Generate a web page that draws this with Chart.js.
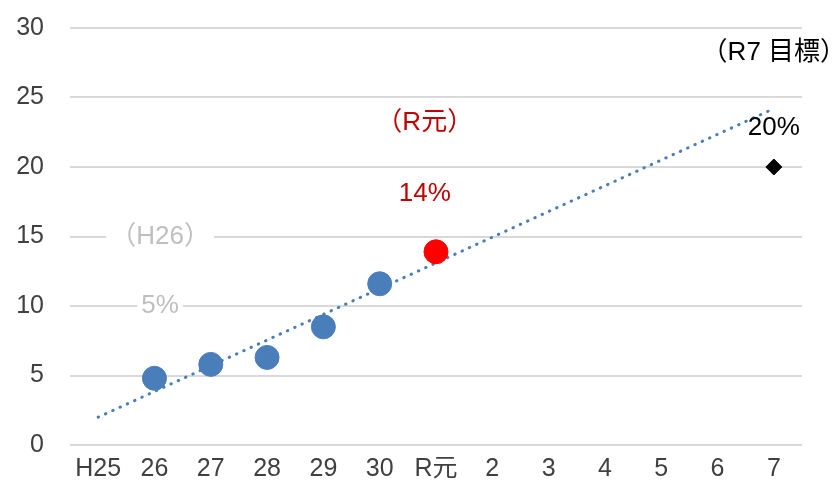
<!DOCTYPE html>
<html>
<head>
<meta charset="utf-8">
<script src="https://cdn.jsdelivr.net/npm/chart.js@4/dist/chart.umd.min.js"></script>
<style>
  html, body { margin: 0; padding: 0; background: #fff; }
  #wrap { width: 840px; height: 495px; }
</style>
</head>
<body>
<div id="wrap"><canvas id="graphique"></canvas></div>
<script>
// categories (年度)
const categories = ["H25", "26", "27", "28", "29", "30", "R元", "2", "3", "4", "5", "6", "7"];
// valeurs
const actual  = [null, 4.8, 5.8, 6.3, 8.5, 11.6, null, null, null, null, null, null, null];
const current = [null, null, null, null, null, null, 13.9, null, null, null, null, null, null];
const target  = [null, null, null, null, null, null, null, null, null, null, null, null, 20];
const trend   = [2.0, null, null, null, null, null, null, null, null, null, null, null, 24.2];
const yTicks  = [0, 5, 10, 15, 20, 25, 30];

// textes d'annotation : [texte, index catégorie, valeur y, couleur, fond blanc]
const notes = [
  ["（H26）", 1.1, 15, "#bfbfbf", true],
  ["5%", 1.1, 10, "#bfbfbf", true],
  ["（R元）", 5.8, 23.2, "#c00000", false],
  ["14%", 5.8, 18.1, "#c00000", false],
  ["（R7 目標）", 12, 28.2, "#000000", false],
  ["20%", 12, 22.8, "#000000", false]
];

const FONT = "'Liberation Sans', Arial, 'Noto Sans CJK JP', sans-serif";

// plugin pour écrire les annotations
const notesPlugin = {
  id: "notes",
  afterDatasetsDraw(chart) {
    const ctx = chart.ctx;
    const xs = chart.scales.x, ys = chart.scales.y;
    ctx.save();
    ctx.font = "26px " + FONT;
    ctx.textAlign = "center";
    ctx.textBaseline = "middle";
    for (const n of notes) {
      const x = xs.getPixelForValue(n[1]);
      const y = ys.getPixelForValue(n[2]);
      if (n[4]) {
        const w = ctx.measureText(n[0]).width;
        ctx.fillStyle = "#ffffff";
        ctx.fillRect(x - w / 2 - 4, y - 13, w + 8, 26);
      }
      ctx.fillStyle = n[3];
      ctx.fillText(n[0], x, y);
    }
    ctx.restore();
  }
};

new Chart(document.querySelector("#graphique"), {
  type: "line",
  data: {
    labels: categories,
    datasets: [
      {
        label: "trend",
        data: trend,
        spanGaps: true,
        borderColor: "#4a7ebb",
        borderWidth: 3,
        borderDash: [0.5, 7.5],
        borderCapStyle: "round",
        pointRadius: 0,
        order: 4
      },
      {
        label: "actual",
        data: actual,
        showLine: false,
        pointRadius: 12,
        pointBackgroundColor: "#4a7ebb",
        pointBorderColor: "#4a7ebb",
        order: 2
      },
      {
        label: "current",
        data: current,
        showLine: false,
        pointRadius: 12,
        pointBackgroundColor: "#ff0000",
        pointBorderColor: "#ff0000",
        order: 1
      },
      {
        label: "target",
        data: target,
        showLine: false,
        pointStyle: "rectRot",
        pointRadius: 8,
        pointBackgroundColor: "#000000",
        pointBorderColor: "#000000",
        order: 1
      }
    ]
  },
  options: {
    responsive: true,
    maintainAspectRatio: false,
    animation: false,
    layout: { padding: { top: 28, right: 38, bottom: 0, left: 0 } },
    plugins: { legend: { display: false }, tooltip: { enabled: false } },
    scales: {
      x: {
        offset: true,
        grid: { display: false, drawTicks: false },
        border: { display: false },
        ticks: { color: "#404040", font: { size: 25, family: FONT }, padding: 9, maxRotation: 0, autoSkip: false },
        afterFit(scale) { scale.height = 50; }
      },
      y: {
        min: 0,
        max: 30,
        afterBuildTicks(scale) { scale.ticks = yTicks.map(v => ({ value: v })); },
        grid: { color: "#d9d9d9", lineWidth: 2, drawTicks: false },
        border: { display: false },
        ticks: { color: "#404040", font: { size: 25, family: FONT }, padding: 26 },
        // largeur fixe, et pas de marge en haut due au padding des ticks
        afterFit(scale) { scale.width = 70; scale.paddingTop = 0; scale.paddingBottom = 0; }
      }
    }
  },
  plugins: [notesPlugin]
});
</script>
</body>
</html>
